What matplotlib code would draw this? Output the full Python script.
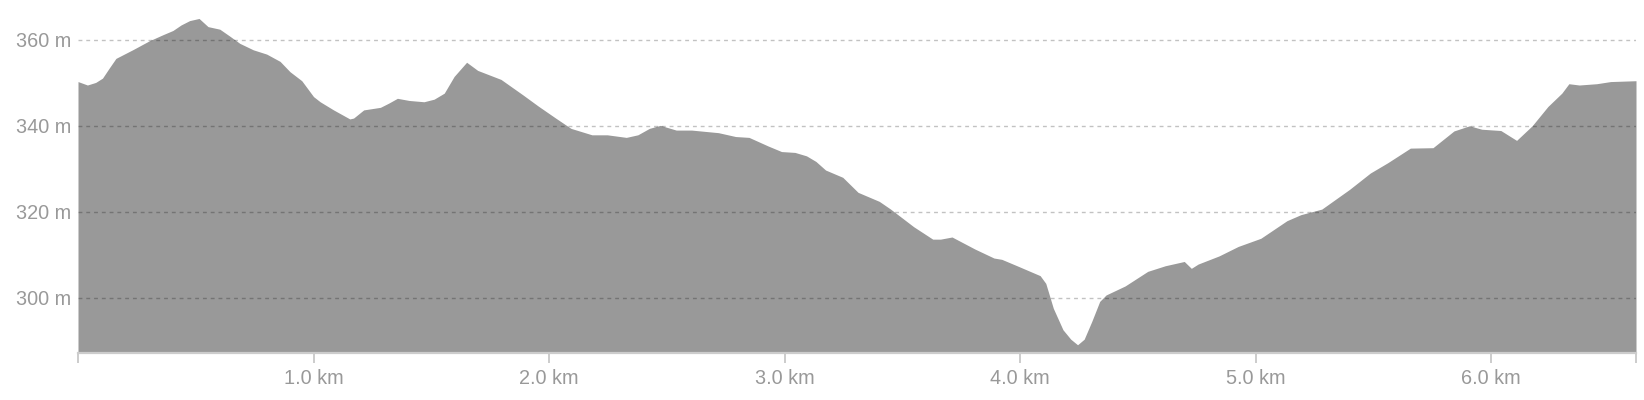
import matplotlib
matplotlib.use("Agg")
import matplotlib.pyplot as plt

# elevation profile, distance in km / elevation in m
dist_km = [0.0, 0.04, 0.075, 0.104, 0.132, 0.161, 0.232, 0.303, 0.36, 0.403,
           0.438, 0.474, 0.514, 0.552, 0.602, 0.644, 0.687, 0.744, 0.801, 0.858,
           0.9, 0.95, 1.0, 1.028, 1.085, 1.154, 1.17, 1.213, 1.284, 1.32,
           1.356, 1.406, 1.469, 1.512, 1.555, 1.597, 1.65, 1.697, 1.796, 1.889,
           1.954, 2.028, 2.093, 2.182, 2.247, 2.328, 2.377, 2.426, 2.472, 2.54,
           2.605, 2.719, 2.792, 2.849, 2.93, 2.987, 3.044, 3.093, 3.133, 3.174,
           3.247, 3.312, 3.402, 3.45, 3.548, 3.629, 3.662, 3.711, 3.808, 3.889,
           3.922, 3.987, 4.085, 4.109, 4.141, 4.182, 4.215, 4.244, 4.272, 4.304,
           4.338, 4.365, 4.446, 4.542, 4.616, 4.697, 4.727, 4.756, 4.845, 4.926,
           5.022, 5.133, 5.192, 5.281, 5.399, 5.487, 5.561, 5.657, 5.753, 5.842,
           5.908, 5.96, 6.041, 6.108, 6.174, 6.241, 6.3, 6.33, 6.374, 6.448,
           6.507, 6.615]
elev_m = [350.3, 349.5, 350.1, 351.1, 353.4, 355.7, 357.7, 359.8, 361.2, 362.2,
          363.5, 364.5, 365.0, 363.1, 362.5, 360.9, 359.2, 357.7, 356.7, 355.0,
          352.6, 350.5, 346.8, 345.6, 343.7, 341.6, 341.8, 343.7, 344.3, 345.3,
          346.4, 345.9, 345.6, 346.2, 347.6, 351.5, 354.8, 352.9, 350.8, 347.2,
          344.6, 341.8, 339.4, 337.9, 337.9, 337.3, 337.9, 339.4, 340.1, 339.0,
          339.0, 338.4, 337.5, 337.3, 335.3, 334.0, 333.8, 333.0, 331.7, 329.7,
          328.0, 324.5, 322.4, 320.6, 316.5, 313.6, 313.6, 314.1, 311.3, 309.2,
          308.9, 307.4, 305.1, 303.3, 297.5, 292.5, 290.3, 289.0, 290.3, 294.4,
          299.1, 300.6, 302.7, 306.1, 307.4, 308.4, 306.8, 307.8, 309.7, 311.9,
          313.8, 317.9, 319.3, 320.6, 325.2, 329.0, 331.4, 334.8, 334.9, 338.8,
          340.0, 339.2, 338.9, 336.6, 340.0, 344.5, 347.6, 349.8, 349.5, 349.8,
          350.3, 350.5]

y_ticks = [300, 320, 340, 360]
y_labels = ["300 m", "320 m", "340 m", "360 m"]
x_ticks = [0, 1, 2, 3, 4, 5, 6, 6.615]
x_labels = ["", "1.0 km", "2.0 km", "3.0 km", "4.0 km", "5.0 km", "6.0 km", ""]

plt.rcParams['font.family'] = ['Liberation Sans', 'DejaVu Sans']

fig = plt.figure(figsize=(16.44, 4.0), dpi=100)
ax = fig.add_axes([78 / 1644, 47.5 / 400, 1558 / 1644, 352.5 / 400])

y_min = 287.2
ax.fill_between(dist_km, elev_m, y_min, color="#999999", linewidth=0, zorder=1)

ax.set_xlim(0, dist_km[-1])
ax.set_ylim(y_min, 369.3)

ax.set_yticks(y_ticks)
ax.set_yticklabels(y_labels)
ax.set_xticks(x_ticks)
ax.set_xticklabels(x_labels)

# dashed grid on top of the area, half see-through
for yv in y_ticks:
    ax.axhline(yv, color="black", alpha=0.24, linewidth=1.0,
               linestyle=(0, (2.8, 2.8)), zorder=3)

for side in ["top", "right", "left"]:
    ax.spines[side].set_visible(False)
ax.spines["bottom"].set_color("#cccccc")
ax.spines["bottom"].set_linewidth(1.6)
ax.spines["bottom"].set_zorder(4)

ax.tick_params(axis="y", length=0, pad=5, labelsize=14.3, labelcolor="#999999")
ax.tick_params(axis="x", length=7, width=1.4, color="#cccccc", pad=5,
               labelsize=14.3, labelcolor="#999999")

fig.savefig("out.png", dpi=100, facecolor="white")
